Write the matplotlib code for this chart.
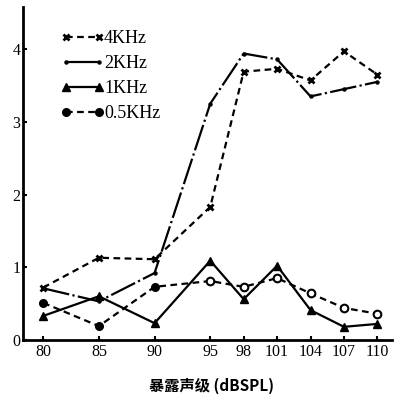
import matplotlib
matplotlib.use("Agg")
import matplotlib.pyplot as plt
from matplotlib.lines import Line2D

levels = [80, 85, 90, 95, 98, 101, 104, 107, 110]
tick_labels = ["80", "85", "90", "95", "98", "101", "104", "107", "110"]
khz4 = [0.72, 1.13, 1.11, 1.83, 3.69, 3.73, 3.57, 3.97, 3.65]
khz2 = [0.71, 0.53, 0.92, 3.25, 3.94, 3.86, 3.35, 3.45, 3.55]
khz1 = [0.33, 0.60, 0.23, 1.09, 0.56, 1.02, 0.41, 0.18, 0.22]
khz05 = [0.51, 0.19, 0.73, 0.81, 0.73, 0.85, 0.64, 0.44, 0.36]
labels = ["4KHz", "2KHz", "1KHz", "0.5KHz"]
xlabel = "暴露声级 (dBSPL)"

serif = ["Liberation Serif", "DejaVu Serif"]

fig = plt.figure(figsize=(3.99, 4.12), dpi=100)
ax = fig.add_axes([0.058, 0.175, 0.924, 0.808])

ax.plot(levels, khz4, color="black", lw=1.6, ls=(0, (3, 2)), marker="x",
        ms=4, mew=2, label=labels[0])
ax.plot(levels, khz2, color="black", lw=1.6, ls=(0, (12, 1.5, 1, 1.5)), marker="o",
        ms=2.2, label=labels[1])
ax.plot(levels, khz1, color="black", lw=1.6, ls="-", marker="^",
        ms=5.5, label=labels[2])
ax.plot(levels, khz05, color="black", lw=1.6, ls=(0, (3, 2)), marker=None,
        label=labels[3])
ax.plot(levels[:3], khz05[:3], ls="none", marker="o", ms=5.5, color="black")
ax.plot(levels[3:], khz05[3:], ls="none", marker="o", ms=5.5, color="black",
        mfc="white", mew=1.5)

ax.set_xlim(78.2, 111.3)
ax.set_ylim(0, 4.58)
ax.set_xticks(levels)
ax.set_xticklabels(tick_labels, fontfamily=serif, fontsize=11.5)
ax.set_yticks([0, 1, 2, 3, 4])
ax.set_yticklabels(["0", "1", "2", "3", "4"], fontfamily=serif, fontsize=11.5)
ax.tick_params(direction="in", length=3, width=1.5, pad=2)
ax.tick_params(axis="x", pad=3)
for s in ["top", "right"]:
    ax.spines[s].set_visible(False)
for s in ["left", "bottom"]:
    ax.spines[s].set_linewidth(2)

handles = [
    Line2D([], [], color="black", lw=1.6, ls=(0, (3, 2)), marker="x", ms=4, mew=2),
    Line2D([], [], color="black", lw=1.6, ls="-", marker="o", ms=2.2),
    Line2D([], [], color="black", lw=1.6, ls="-", marker="^", ms=5.5),
    Line2D([], [], color="black", lw=1.6, ls=(0, (3, 2)), marker="o", ms=5.5),
]
ax.legend(handles, labels, loc="upper left", bbox_to_anchor=(0.058, 0.98),
          frameon=False, numpoints=2, handlelength=2.4, handletextpad=0.0,
          labelspacing=0.45, prop={"family": serif, "size": 13})

fig.text(0.53, 0.063, xlabel, ha="center", va="center", fontsize=11,
         family=["Noto Sans CJK SC", "DejaVu Sans"], fontweight="bold")

fig.savefig("out.png", dpi=100)
